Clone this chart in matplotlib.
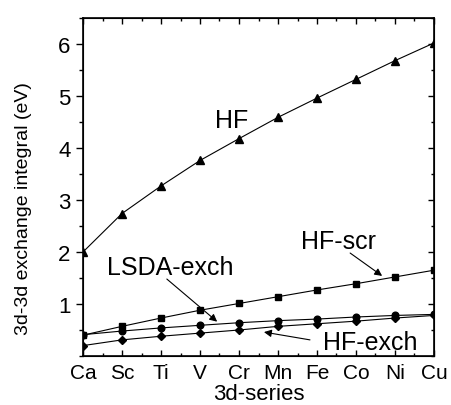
import matplotlib
matplotlib.use("Agg")
import matplotlib.pyplot as plt
from matplotlib.ticker import MultipleLocator, FixedLocator

plt.rcParams['font.family'] = ['Liberation Sans', 'DejaVu Sans']

elements = ["Ca", "Sc", "Ti", "V", "Cr", "Mn", "Fe", "Co", "Ni", "Cu"]
hf = [2.00, 2.74, 3.27, 3.76, 4.18, 4.59, 4.96, 5.32, 5.68, 6.02]
hf_scr = [0.40, 0.57, 0.73, 0.88, 1.01, 1.14, 1.27, 1.39, 1.52, 1.65]
lsda_exch = [0.41, 0.48, 0.54, 0.59, 0.64, 0.68, 0.71, 0.75, 0.78, 0.80]
hf_exch = [0.20, 0.31, 0.38, 0.44, 0.50, 0.57, 0.62, 0.67, 0.73, 0.78]
yticks = [1, 2, 3, 4, 5, 6]

fig = plt.figure(figsize=(4.52, 4.06), dpi=100)
ax = fig.add_axes([83 / 452, 1 - 357 / 406, (434 - 83) / 452, (357 - 19) / 406])

x = list(range(len(elements)))
lw = 0.8
ax.plot(x, hf, color='black', lw=lw, marker='^', ms=5.5)
ax.plot(x, hf_scr, color='black', lw=lw, marker='s', ms=4.5)
ax.plot(x, lsda_exch, color='black', lw=lw, marker='o', ms=4.8)
ax.plot(x, hf_exch, color='black', lw=lw, marker='D', ms=3.8)

ax.set_xlim(0, len(elements) - 1)
ax.set_ylim(0, 6.5)
ax.set_xticks(x)
ax.set_xticklabels(elements)
ax.xaxis.set_minor_locator(FixedLocator([i + 0.5 for i in x[:-1]]))
ax.set_yticks(yticks)
ax.yaxis.set_minor_locator(MultipleLocator(0.5))

ax.tick_params(axis='x', which='both', direction='in', top=True, bottom=True, labelsize=15, pad=5)
ax.tick_params(axis='x', which='major', length=4.5, width=1)
ax.tick_params(axis='x', which='minor', length=2.5, width=1)
ax.tick_params(axis='y', which='both', direction='out', left=True, right=False, labelsize=16, pad=4)
ax.tick_params(axis='y', which='major', length=5, width=1)
ax.tick_params(axis='y', which='minor', length=3, width=1)
for s in ax.spines.values():
    s.set_linewidth(1.2)

# right-side inward ticks via a twin axis
axr = ax.twinx()
axr.set_ylim(ax.get_ylim())
axr.set_yticks(yticks)
axr.yaxis.set_minor_locator(MultipleLocator(0.5))
axr.tick_params(axis='y', which='both', direction='in', labelright=False)
axr.tick_params(axis='y', which='major', length=4.5, width=1)
axr.tick_params(axis='y', which='minor', length=2.5, width=1)

ax.set_xlabel("3d-series", fontsize=16, labelpad=1)
ax.set_ylabel("3d-3d exchange integral (eV)", fontsize=14)
ax.yaxis.set_label_coords(-0.145, 0.44)

tfs = 18
ax.text(3.82, 4.54, "HF", fontsize=tfs, ha='center', va='center')
ax.text(6.54, 2.21, "HF-scr", fontsize=tfs, ha='center', va='center')
ax.text(2.23, 1.72, "LSDA-exch", fontsize=tfs, ha='center', va='center')
ax.text(7.36, 0.27, "HF-exch", fontsize=tfs, ha='center', va='center')

arrow = dict(arrowstyle='-|>', color='black', lw=0.8, shrinkA=0, shrinkB=0, mutation_scale=11)
ax.annotate("", xy=(7.67, 1.54), xytext=(6.85, 1.98), arrowprops=arrow)
ax.annotate("", xy=(3.44, 0.66), xytext=(2.15, 1.48), arrowprops=arrow)
ax.annotate("", xy=(4.64, 0.46), xytext=(5.82, 0.31), arrowprops=arrow)

fig.savefig("out.png", dpi=100)
